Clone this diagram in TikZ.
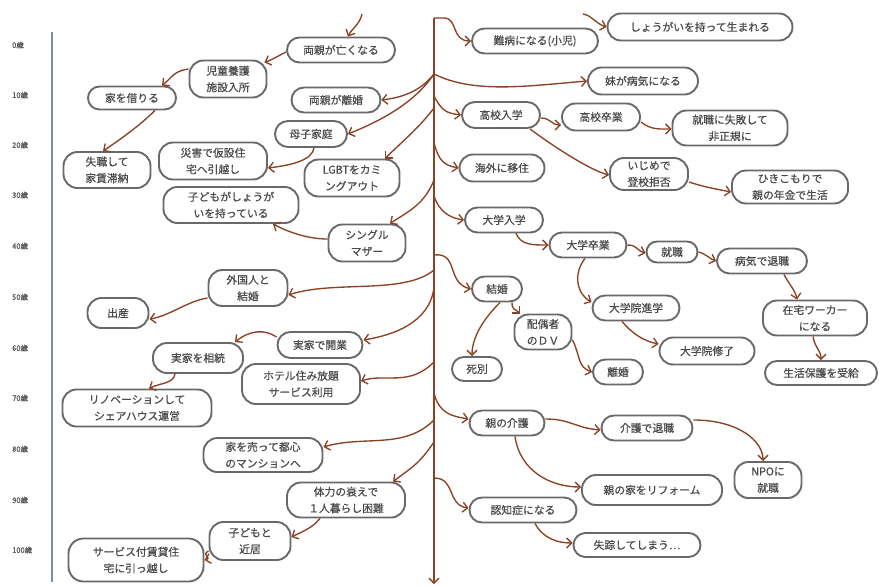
\documentclass[tikz,border=0pt]{standalone}
\usepackage{fontspec}
\setmainfont{Noto Sans CJK JP}
\newfontfamily\boldish[FakeBold=0.6]{Noto Sans CJK JP}
\usetikzlibrary{arrows.meta}
\definecolor{brn}{RGB}{139,66,36}
\definecolor{nodegray}{RGB}{105,105,105}
\definecolor{txtgray}{RGB}{75,75,75}
\definecolor{axisblue}{RGB}{122,142,178}
\definecolor{agegray}{RGB}{88,88,88}
\newcommand\nodefnt{\boldish\fontsize{10.8}{16.5}\selectfont}
\newcommand\agefnt{\boldish\fontsize{7.5}{9}\selectfont}
\newcommand\evn[6]{\node[ev, rounded corners=#5pt, minimum width=#3pt, minimum height=#4pt] (#1) at (#2) {#6};}
\tikzset{
  ev/.style={draw=nodegray, line width=1.9pt, fill=white, align=center, text=txtgray, font=\nodefnt, inner sep=0pt},
  con/.style={draw=brn, line width=1.35pt, -{Straight Barb[length=5pt,width=10pt]}},
  agelbl/.style={font=\agefnt, text=agegray, anchor=west, inner sep=0pt},
  axisline/.style={draw=axisblue, line width=2.6pt},
}
\begin{document}
\begin{tikzpicture}[x=1pt,y=-1pt]
\fill[white] (0,0) rectangle (880,586);
\useasboundingbox (0,0) rectangle (880,586);

% age axis
\coordinate (axtop) at (52,32);
\coordinate (axbot) at (52,582);
\draw[axisline] (axtop) -- (axbot);
\node[agelbl] (a0) at (12,45) {0歳};
\node[agelbl] (a10) at (12,95) {10歳};
\node[agelbl] (a20) at (12,145) {20歳};
\node[agelbl] (a30) at (12,195) {30歳};
\node[agelbl] (a40) at (12,246) {40歳};
\node[agelbl] (a50) at (12,297) {50歳};
\node[agelbl] (a60) at (12,348) {60歳};
\node[agelbl] (a70) at (12,398) {70歳};
\node[agelbl] (a80) at (12,449) {80歳};
\node[agelbl] (a90) at (12,500) {90歳};
\node[agelbl] (a100) at (12,550) {100歳};

% trunk
\coordinate (ttop) at (434,18);
\coordinate (tbot) at (434,584);
\draw[con] (ttop) -- (tbot);
\coordinate (tB) at (434,74);
\coordinate (tC) at (434,96);
\coordinate (tD) at (434,108);
\coordinate (tE) at (434,143);
\coordinate (tF) at (434,180);
\coordinate (tG) at (434,196);
\coordinate (tH) at (434,255);
\coordinate (tI) at (434,270);
\coordinate (tJ) at (434,288);
\coordinate (tK) at (434,362);
\coordinate (tL) at (434,393);
\coordinate (tM) at (434,420);
\coordinate (tN) at (434,442);
\coordinate (tO) at (434,478);
\coordinate (uStart) at (583,14);
\coordinate (rStart) at (362,14);

% left nodes
\evn{ryoshin}{341,50}{108}{25}{12.5}{両親が亡くなる}
\evn{jido}{228,79}{77}{37}{14}{児童養護\\施設入所}
\evn{kari}{132,98}{88}{23}{11.5}{家を借りる}
\evn{rikon0}{336,100}{89}{25}{12.5}{両親が離婚}
\evn{boshi}{311,134}{72}{26}{13}{母子家庭}
\evn{saigai}{213,161}{108}{37}{14}{災害で仮設住\\宅へ引越し}
\evn{shitsu}{107,170}{87}{36}{14}{失職して\\家賃滞納}
\evn{lgbt}{352,178}{95}{37}{14}{LGBTをカミ\\ングアウト}
\evn{kodomo}{231,205}{135}{36}{14}{子どもがしょうが\\いを持っている}
\evn{single}{367,243}{77}{37}{14}{シングル\\マザー}
\evn{gaikoku}{248,288}{79}{36}{14}{外国人と\\結婚}
\evn{shussan}{118,313}{61}{30}{14}{出産}
\evn{kaigyo}{320,345}{85}{26}{13}{実家で開業}
\evn{sozoku}{198,358}{90}{30}{14}{実家を相続}
\evn{hotel}{301,384}{118}{40}{14}{ホテル住み放題\\サービス利用}
\evn{reno}{137,408}{149}{37}{14}{リノベーションして\\シェアハウス運営}
\evn{uru}{263,455}{119}{34}{14}{家を売って都心\\のマンションへ}
\evn{tairyoku}{346,500}{118}{35}{14}{体力の衰えで\\１人暮らし困難}
\evn{kinkyo}{250,541}{81}{38}{14}{子どもと\\近居}
\evn{sabisu}{136,560}{135}{43}{15}{サービス付賃貸住\\宅に引っ越し}

% right nodes
\evn{nanbyo}{535,41}{126}{25}{12.5}{難病になる(小児)}
\evn{umareru}{700,27}{185}{27}{13.5}{しょうがいを持って生まれる}
\evn{imoto}{643,81}{110}{27}{13.5}{妹が病気になる}
\evn{koko}{501,115}{78}{26}{13}{高校入学}
\evn{kokosotsu}{601,117}{78}{27}{13.5}{高校卒業}
\evn{shippai}{730,128}{115}{35}{14}{就職に失敗して\\非正規に}
\evn{kaigai}{502,168}{85}{27}{13.5}{海外に移住}
\evn{ijime}{649,174}{78}{32}{14}{いじめで\\登校拒否}
\evn{hiki}{790,187}{116}{33}{14}{ひきこもりで\\親の年金で生活}
\evn{daigaku}{504,220}{78}{25}{12.5}{大学入学}
\evn{daisotsu}{588,245}{77}{25}{12.5}{大学卒業}
\evn{shushoku}{672,252}{51}{21}{10.5}{就職}
\evn{byoki}{762,261}{90}{25}{12.5}{病気で退職}
\evn{kekkon}{497,289}{50}{25}{12.5}{結婚}
\evn{inshin}{636,308}{87}{25}{12.5}{大学院進学}
\evn{zaitaku}{815,318}{104}{35}{14}{在宅ワーカー\\になる}
\evn{dv}{543,332}{57}{35}{14}{配偶者\\のＤＶ}
\evn{inshu}{707,351}{95}{27}{13.5}{大学院修了}
\evn{shibetsu}{477,369}{50}{24}{12}{死別}
\evn{rikon}{618,372}{50}{25}{12.5}{離婚}
\evn{hogo}{821,373}{112}{24}{12}{生活保護を受給}
\evn{kaigo}{507,423}{75}{25}{12.5}{親の介護}
\evn{kaigotai}{647,428}{91}{25}{12.5}{介護で退職}
\evn{npo}{768,480}{67}{36}{14}{NPOに\\就職}
\evn{reform}{652,490}{140}{30}{14}{親の家をリフォーム}
\evn{ninchi}{523,510}{107}{25}{12.5}{認知症になる}
\evn{shisso}{637,545}{127}{24}{12}{失踪してしまう…}

% trunk branches
\draw[con] (ttop) -- ++(10,0) .. controls +(14,0) and +(-20,0) .. (nanbyo.west);
\draw[con] (uStart) .. controls +(8,1) and +(-10,-3) .. (umareru.west);
\draw[con] (rStart) .. controls +(-2,10) and +(4,-8) .. ([xshift=7pt]ryoshin.north);
\draw[con] (tB) .. controls +(-12,15) and +(25,-3) .. (rikon0.east);
\draw[con] (tB) .. controls +(-20,30) and +(30,-12) .. (boshi.east);
\draw[con] (tB) .. controls +(40,20) and +(-60,5) .. (imoto.west);
\draw[con] (tC) .. controls +(8,15) and +(-15,-2) .. (koko.west);
\draw[con] (tD) .. controls +(-15,20) and +(15,-15) .. ([xshift=33pt]lgbt.north);
\draw[con] (tE) .. controls +(5,18) and +(-15,-3) .. (kaigai.west);
\draw[con] (tF) .. controls +(-10,25) and +(18,-12) .. ([xshift=23pt]single.north);
\draw[con] (tG) .. controls +(5,15) and +(-15,-2) .. (daigaku.west);
\draw[con] (tH) .. controls +(25,-3) and +(-25,-6) .. (kekkon.west);
\draw[con] (tI) .. controls +(-30,25) and +(45,-15) .. ([yshift=-7pt]gaikoku.east);
\draw[con] (tJ) .. controls +(-5,35) and +(30,-5) .. ([yshift=5pt]kaigyo.east);
\draw[con] (tK) .. controls +(-25,25) and +(25,-8) .. ([yshift=3pt]hotel.east);
\draw[con] (tL) .. controls +(5,20) and +(-18,-3) .. ([yshift=4pt]kaigo.west);
\draw[con] (tM) .. controls +(-30,30) and +(40,-12) .. ([yshift=8pt]uru.east);
\draw[con] (tN) .. controls +(-15,22) and +(20,-15) .. ([xshift=47pt]tairyoku.north);
\draw[con] (tO) .. controls +(22,0) and +(-22,-3) .. ([yshift=2pt]ninchi.west);

% left chains
\draw[con] ([yshift=-2pt]ryoshin.west) .. controls +(-10,5) and +(10,-4) .. ([xshift=-3pt,yshift=-3pt]jido.north east);
\draw[con] ([yshift=10pt]jido.west) .. controls +(-15,2) and +(10,-8) .. ([xshift=30pt]kari.north);
\draw[con] ([xshift=23pt]kari.south) .. controls +(-15,15) and +(15,-10) .. ([xshift=-4pt]shitsu.north);
\draw[con] ([xshift=3pt]boshi.south) .. controls +(-2,12) and +(25,-3) .. ([yshift=-7pt]saigai.east);
\draw[con] ([yshift=4pt]single.west) .. controls +(-20,0) and +(15,8) .. ([xshift=42pt]kodomo.south);
\draw[con] ([yshift=-10pt]gaikoku.west) .. controls +(-20,3) and +(20,-3) .. ([yshift=-6pt]shussan.east);
\draw[con] ([yshift=8pt]kaigyo.west) .. controls +(-12,-8) and +(15,-12) .. ([xshift=37pt]sozoku.north);
\draw[con] ([xshift=-23pt]sozoku.south) .. controls +(-2,10) and +(12,-6) .. ([xshift=12pt]reno.north);
\draw[con] ([xshift=-26pt]tairyoku.south) .. controls +(-8,10) and +(10,-5) .. ([yshift=4pt]kinkyo.east);
\draw[con] ([yshift=-10pt]kinkyo.west) .. controls +(-8,4) and +(8,-2) .. (sabisu.east);

% right chains
\draw[con] ([yshift=-3pt]koko.east) .. controls +(10,0) and +(-10,0) .. ([yshift=-8pt]kokosotsu.west);
\draw[con] ([yshift=-5pt]kokosotsu.east) .. controls +(10,8) and +(-12,0) .. ([yshift=-1pt]shippai.west);
\draw[con] ([xshift=29pt]koko.south) .. controls +(20,15) and +(-20,-5) .. ([yshift=-1pt]ijime.west);
\draw[con] ([yshift=-8pt]ijime.east) .. controls +(15,5) and +(-15,-3) .. ([yshift=-5pt]hiki.west);
\draw[con] ([xshift=12pt]daigaku.south) .. controls +(5,12) and +(-15,0) .. (daisotsu.west);
\draw[con] (daisotsu.east) .. controls +(10,0) and +(-10,-3) .. ([yshift=-1pt]shushoku.west);
\draw[con] (shushoku.east) .. controls +(8,2) and +(-8,-3) .. (byoki.west);
\draw[con] ([xshift=22pt]byoki.south) .. controls +(5,10) and +(-2,-10) .. ([xshift=-18pt]zaitaku.north);
\draw[con] ([xshift=-2pt]zaitaku.south) .. controls +(2,12) and +(0,-10) .. (hogo.north);
\draw[con] ([xshift=-3pt]daisotsu.south) .. controls +(-12,15) and +(-15,-8) .. ([yshift=6pt]inshin.west);
\draw[con] ([xshift=-14pt]inshin.south) .. controls +(10,12) and +(-15,-3) .. ([yshift=7pt]inshu.west);
\draw[con] ([xshift=3pt]kekkon.south) .. controls +(-15,15) and +(0,-20) .. ([xshift=-5pt]shibetsu.north);
\draw[con] ([xshift=15pt]kekkon.south) .. controls +(0,8) and +(-5,-5) .. ([xshift=-23pt]dv.north);
\draw[con] ([yshift=-8pt]dv.east) .. controls +(8,15) and +(-15,-5) .. (rikon.west);
\draw[con] ([yshift=4pt]kaigo.east) .. controls +(25,0) and +(-25,-2) .. ([yshift=-2pt]kaigotai.west);
\draw[con] ([yshift=8pt]kaigotai.east) .. controls +(45,0) and +(0,-20) .. ([xshift=-5pt]npo.north);
\draw[con] ([xshift=8pt]kaigo.south) .. controls +(5,35) and +(-30,0) .. ([yshift=3pt]reform.west);
\draw[con] ([xshift=12pt]ninchi.south) .. controls +(8,15) and +(-15,0) .. ([yshift=2pt]shisso.west);
\end{tikzpicture}
\end{document}
